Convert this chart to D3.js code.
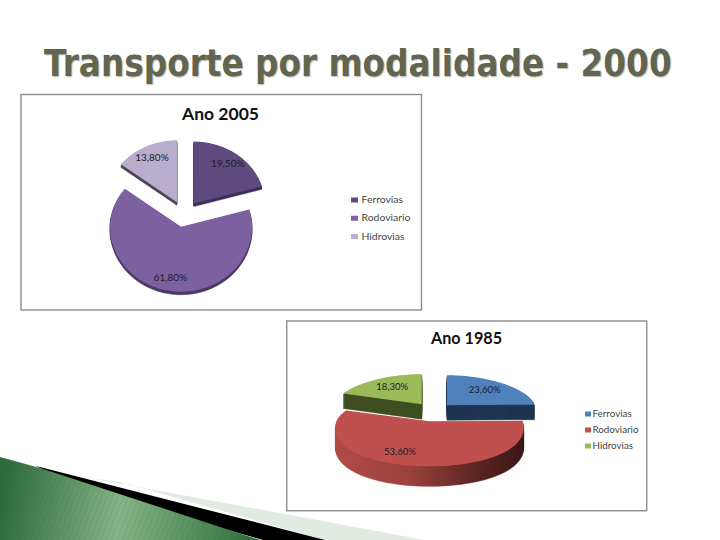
<!DOCTYPE html>
<html><head><meta charset="utf-8">
<script src="https://cdn.jsdelivr.net/npm/d3@7/dist/d3.min.js"></script>
<style>
html,body{margin:0;padding:0;background:#fff}
svg{display:block}
.main{font-family:"DejaVu Sans",sans-serif;font-weight:700;text-shadow:1px 1px 1px rgba(90,90,70,.4)}
.c{font-family:Lato,"Open Sans",sans-serif}
</style></head><body>
<svg id="s" width="720" height="540"></svg>
<script>
const pageTitle = "Transporte por modalidade - 2000";
const categories = ["Ferrovias","Rodoviario","Hidrovias"];
const values2005 = [19.5,61.8,13.8];
const labels2005 = ["19,50%","61,80%","13,80%"];
const values1985 = [23.6,53.6,18.3];
const labels1985 = ["23,60%","53,60%","18,30%"];
const colors2005 = ["#5f4a7f","#7d60a0","#b9adcd"];
const walls2005  = ["#3f3156","#4a3a63","#4a4752"];
const legend2005 = ["#5f4a7f","#8064a2","#bcb0cf"];
const colors1985 = ["#4f81bd","#c0504d","#9bbb59"];
const walls1985  = ["#1f3550","url(#redWall)","#3f4f22"];
const legend1985 = ["#4f81bd","#c0504d","#9bbb59"];

const svg = d3.select("#s");
const defs = svg.append("defs");

const rg = defs.append("linearGradient").attr("id","redWall").attr("gradientUnits","userSpaceOnUse")
  .attr("x1",333).attr("x2",523).attr("y1",0).attr("y2",0);
[[0,"#b34b48"],[.4,"#9c413e"],[.75,"#5c2523"],[1,"#3c1716"]].forEach(s=>rg.append("stop").attr("offset",s[0]).attr("stop-color",s[1]));

const gg = defs.append("linearGradient").attr("id","greenBand").attr("gradientUnits","userSpaceOnUse")
  .attr("x1",0).attr("x2",265).attr("y1",500).attr("y2",540);
[[0,"#2d6a3a"],[.45,"#85b488"],[.8,"#4a8752"],[1,"#2a6636"]].forEach(s=>gg.append("stop").attr("offset",s[0]).attr("stop-color",s[1]));

const hatch = defs.append("pattern").attr("id","hatch").attr("patternUnits","userSpaceOnUse")
  .attr("width",5).attr("height",5).attr("patternTransform","rotate(22)");
hatch.append("line").attr("x1",0).attr("x2",0).attr("y1",0).attr("y2",5)
  .attr("stroke","#1f4f2a").attr("stroke-opacity",.22).attr("stroke-width",1);

// decorative corner
const corner = svg.append("g");
const greenEdge = [[0,457],[40,468],[260,540],[0,540]];
corner.append("path").attr("d",d3.line()([[90,478],[425,540],[325,540],[120,482]])).attr("fill","#e2ebe2");
corner.append("path").attr("d",d3.line()([[36,466],[325,540],[263,540],[80,488]])).attr("fill","#000");
corner.append("path").attr("d",d3.line()(greenEdge)).attr("fill","url(#greenBand)");
corner.append("path").attr("d",d3.line()(greenEdge)).attr("fill","url(#hatch)");

const titleEl = svg.append("text").attr("class","main").attr("font-size",36.5).attr("fill","#62654f").text(pageTitle);
const titleWidth = titleEl.node().getComputedTextLength();
titleEl.attr("transform",`translate(44,76) scale(${628/titleWidth},1)`);

function drawChart(o){
  const g = svg.append("g");
  g.append("rect").attr("x",o.box[0]).attr("y",o.box[1]).attr("width",o.box[2]).attr("height",o.box[3])
    .attr("fill","#fff").attr("stroke","#8c8c8c").attr("stroke-width",1.4);
  g.append("text").attr("class","c").attr("x",o.titleX).attr("y",o.titleY).attr("text-anchor","middle")
    .attr("font-size",o.titleSize).attr("font-weight",700).attr("fill","#111").text(o.title);

  const arcs = d3.pie().sort(null)(o.values);
  const slices = arcs.map((a,i)=>{
    const mid = (a.startAngle+a.endAngle)/2;
    const ax = o.cx+o.ex*Math.sin(mid), ay = o.cy-o.ey*Math.cos(mid);
    const proj = (th,f)=>{
      const c = Math.cos(th), ry = c>0?o.ryTop:o.ryBottom;
      const y = ay-f*ry*c;
      const sc = 1+o.persp*(y-o.cy);
      return [ax+f*o.rx*sc*Math.sin(th), y];
    };
    const n = 60;
    const outline = [[ax,ay]].concat(d3.range(n+1).map(k=>proj(a.startAngle+(a.endAngle-a.startAngle)*k/n,1)));
    const lab = proj(mid,o.labelF);
    return {i,outline,lab,mid};
  });
  const line = d3.line().curve(d3.curveLinear);
  o.order.forEach(i=>{
    const s = slices[i];
    d3.range(o.depth[i],0,-1).forEach(d=>{
      g.append("path").attr("d",line(s.outline)+"Z").attr("transform",`translate(0,${d})`)
        .attr("fill",o.walls[i]).attr("stroke",o.walls[i]).attr("stroke-width",.5);
    });
    g.append("path").attr("d",line(s.outline)+"Z").attr("fill",o.colors[i]);
  });
  slices.forEach(s=>{
    g.append("text").attr("class","c").attr("x",s.lab[0]+o.nudge[s.i]).attr("y",s.lab[1]+3)
      .attr("text-anchor","middle").attr("font-size",o.labelSize).attr("fill","#1c1c2a").text(o.labels[s.i]);
  });
  const ly = d3.scalePoint().domain(categories).range(o.legendY);
  categories.forEach((c,i)=>{
    g.append("rect").attr("x",o.legendX).attr("y",ly(c)-2.5).attr("width",o.legendBox).attr("height",5).attr("fill",o.legend[i]);
    g.append("text").attr("class","c").attr("x",o.legendX+o.legendGap).attr("y",ly(c)+3)
      .attr("font-size",o.legendSize).attr("fill","#444").text(c);
  });
}

drawChart({box:[21,94.5,400.5,215.5],title:"Ano 2005",titleX:220.5,titleY:120,titleSize:17.5,
  values:values2005,labels:labels2005,colors:colors2005,walls:walls2005,legend:legend2005,order:[2,0,1],
  cx:184,cy:214,ex:16,ey:13,rx:71,ryTop:62,ryBottom:65,persp:0,depth:[3,3,3],labelF:.8,labelSize:10,nudge:[0,0,0],
  legendX:351,legendY:[200,236.5],legendBox:7,legendGap:10.5,legendSize:10.4});

drawChart({box:[286.7,321,360,189.7],title:"Ano 1985",titleX:466.5,titleY:343.5,titleSize:16.2,
  values:values1985,labels:labels1985,colors:colors1985,walls:walls1985,legend:legend1985,order:[2,0,1],
  cx:433,cy:412,ex:20,ey:9.5,rx:90,ryTop:30,ryBottom:45,persp:.0036,depth:[15,20,15],labelF:.7,labelSize:9.5,nudge:[-3,-17,3],
  legendX:585,legendY:[414,446],legendBox:6,legendGap:7.5,legendSize:9.8});
</script>
</body></html>
